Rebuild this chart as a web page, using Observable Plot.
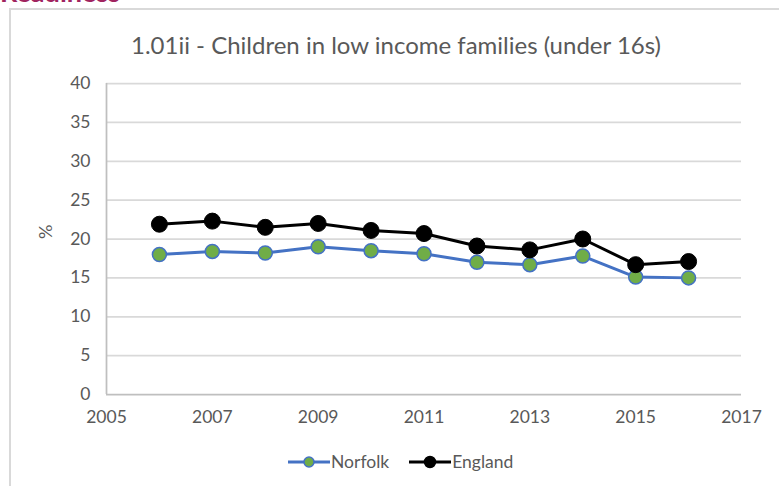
<!DOCTYPE html>
<html><head><meta charset="utf-8">
<script src="https://cdn.jsdelivr.net/npm/d3@7"></script>
<script src="https://cdn.jsdelivr.net/npm/@observablehq/plot@0.6"></script>
<style>
body{margin:0;background:#fff;width:779px;height:486px;overflow:hidden;position:relative;font-family:Lato,"Open Sans",sans-serif;}
#head{position:absolute;left:0;top:-25px;font:bold 27px Lato,sans-serif;color:#a0245f;white-space:nowrap;}
#frame{position:absolute;left:9px;top:8px;width:820px;height:520px;border:2px solid #d9d9d9;box-sizing:border-box;}
#title{position:absolute;left:0;width:792px;top:30px;text-align:center;font-size:24px;line-height:29px;color:#595959;white-space:nowrap;}
#chart{position:absolute;left:0;top:0;}
#legend{position:absolute;left:288px;top:451px;display:flex;gap:20px;font-size:17.5px;line-height:22px;color:#595959;white-space:nowrap;}
.li{display:flex;align-items:center;gap:1px;}
</style></head>
<body>
<div id="head">Readiness</div>
<div id="frame"></div>
<div id="chart"></div>
<div id="title">1.01ii - Children in low income families (under 16s)</div>
<div id="legend"></div>
<script>
const years = [2006,2007,2008,2009,2010,2011,2012,2013,2014,2015,2016];
const norfolk = [18.0,18.4,18.2,19.0,18.5,18.1,17.0,16.7,17.8,15.1,15.0];
const england = [21.9,22.3,21.5,22.0,21.1,20.7,19.1,18.6,20.0,16.7,17.1];
const yTicks = [0,5,10,15,20,25,30,35,40];
const xTicks = [2005,2007,2009,2011,2013,2015,2017];
const seriesNames = ["Norfolk","England"];
const lineColors = {Norfolk:"#4472c4", England:"#000000"};
const dotFills = {Norfolk:"#70ad47", England:"#000000"};

const data = [];
years.forEach((y,i)=>{
  data.push({year:y, value:norfolk[i], series:"Norfolk"});
  data.push({year:y, value:england[i], series:"England"});
});
const nf = data.filter(d=>d.series==="Norfolk");
const en = data.filter(d=>d.series==="England");

const plot = Plot.plot({
  width:779, height:486,
  marginLeft:106, marginRight:38, marginTop:83, marginBottom:92,
  style:{fontFamily:"Lato, sans-serif", fontSize:"17px", color:"#595959", background:"transparent"},
  x:{domain:[2005,2017], ticks:xTicks, tickFormat:d=>String(d), label:null},
  y:{domain:[0,40], ticks:yTicks, label:null},
  marks:[
    Plot.gridY(yTicks.filter(t=>t>0), {stroke:"#d9d9d9", strokeOpacity:1, strokeWidth:1.75}),
    Plot.ruleY([0], {stroke:"#bfbfbf", strokeWidth:1.75}),
    Plot.ruleX([2005], {y1:0, y2:40, stroke:"#bfbfbf", strokeWidth:1.75}),
    Plot.axisY({ticks:yTicks, tickSize:0, tickPadding:16, fontSize:17.5, fill:"#595959", label:null}),
    Plot.axisX({ticks:xTicks, tickSize:0, tickPadding:16, fontSize:17.5, fill:"#595959", label:null, tickFormat:d=>String(d)}),
    Plot.text(["%"], {frameAnchor:"left", dx:-60, y:[20], rotate:-90, fontSize:18, fill:"#595959"}),
    Plot.line(nf, {x:"year", y:"value", stroke:lineColors.Norfolk, strokeWidth:3}),
    Plot.dot(nf, {x:"year", y:"value", r:7, fill:dotFills.Norfolk, stroke:lineColors.Norfolk, strokeWidth:1.5}),
    Plot.line(en, {x:"year", y:"value", stroke:lineColors.England, strokeWidth:3}),
    Plot.dot(en, {x:"year", y:"value", r:8, fill:dotFills.England, stroke:"#000", strokeWidth:1})
  ]
});
document.getElementById("chart").appendChild(plot);

const lg = document.getElementById("legend");
seriesNames.forEach(s=>{
  const item = document.createElement("div"); item.className="li";
  const isN = s==="Norfolk";
  item.innerHTML = `<svg width="42" height="14"><line x1="0" x2="42" y1="7" y2="7" stroke="${lineColors[s]}" stroke-width="3"/><circle cx="21" cy="7" r="${isN?5:5.5}" fill="${dotFills[s]}" stroke="${lineColors[s]}" stroke-width="1.5"/></svg><span>${s}</span>`;
  lg.appendChild(item);
});
</script>
</body></html>
